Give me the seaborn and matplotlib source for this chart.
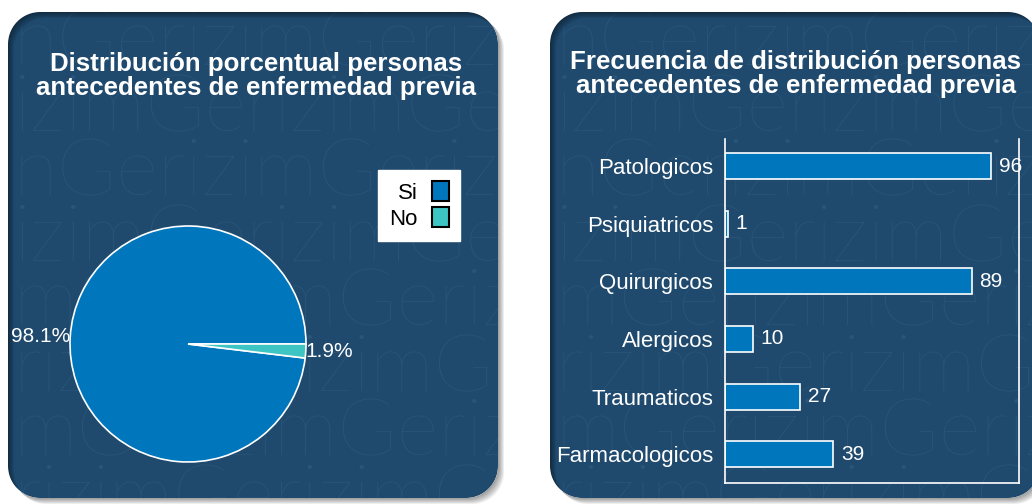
import numpy as np
import matplotlib.pyplot as plt
import seaborn as sns
import pandas as pd
from matplotlib.patches import Rectangle, Polygon, PathPatch
from matplotlib.path import Path
from matplotlib.transforms import Bbox, TransformedBbox

plt.rcParams['font.family'] = ['Liberation Sans', 'DejaVu Sans']

# datos del grafico de torta
grupos = ['Si', 'No']
porcentajes = [98.1, 1.9]
colores_pie = ['#0077BD', '#3DC5C3']

# datos del grafico de barras
antecedentes = ['Patologicos', 'Psiquiatricos', 'Quirurgicos', 'Alergicos',
                'Traumaticos', 'Farmacologicos']
frecuencias = [96, 1, 89, 10, 27, 39]

titulo_pie = 'Distribución porcentual personas\nantecedentes de enfermedad previa'
titulo_barras = 'Frecuencia de distribución personas\nantecedentes de enfermedad previa'

# filas de la marca de agua
filas_marca = ['nGerizimGerizim', 'izimGerizimGerizim', 'nGerizimGerizim',
               'izimGerizimGerizim', 'mGerizimGerizim', 'rizimGerizimGerizim',
               'mGerizimGerizim', 'rizimGerizimGerizim']

fondo = '#1F4A6E'
marca = '#285579'
azul = '#0077BD'

W, H = 1032, 504
fig = plt.figure(figsize=(W / 100, H / 100), dpi=100)
fig.patch.set_facecolor('white')

# capa de fondo en pixeles
bg = fig.add_axes([0, 0, 1, 1])
bg.set_xlim(0, W)
bg.set_ylim(H, 0)
bg.axis('off')


def redondeado(x0, y0, w, h, r, n=24):
    pts = []
    for cx, cy, a0 in [(x0 + w - r, y0 + r, -90), (x0 + w - r, y0 + h - r, 0),
                       (x0 + r, y0 + h - r, 90), (x0 + r, y0 + r, 180)]:
        ang = np.radians(np.linspace(a0, a0 + 90, n))
        pts += list(zip(cx + r * np.cos(ang), cy + r * np.sin(ang)))
    return np.array(pts)


def orientar(v, positivo):
    area = 0.5 * np.sum(v[:, 0] * np.roll(v[:, 1], -1) - np.roll(v[:, 0], -1) * v[:, 1])
    return v if (area > 0) == positivo else v[::-1]


def anillo(exterior, interior):
    ext = orientar(exterior, True)
    inn = orientar(interior, False)
    return Path.make_compound_path(Path(np.vstack([ext, ext[:1]]), closed=True),
                                   Path(np.vstack([inn, inn[:1]]), closed=True))


pw, ph, rad = 490, 486, 32
for x0 in [8, 550]:
    y0 = 12
    borde = redondeado(x0, y0, pw, ph, rad)
    bg.add_patch(Polygon(borde, closed=True, facecolor=fondo, edgecolor='none', zorder=1))
    # marca de agua, recortada a la caja del panel
    caja = TransformedBbox(Bbox.from_extents(x0 / W, 1 - (y0 + ph) / H,
                                             (x0 + pw) / W, 1 - y0 / H),
                           fig.transFigure)
    for i, texto in enumerate(filas_marca):
        t = bg.text(x0 + 6, 66 + 65 * i, texto, fontsize=58, color=marca,
                    ha='left', va='baseline', family=['Lato', 'DejaVu Sans'],
                    weight='light', zorder=2, clip_on=True)
        t.set_clip_box(caja)
    # esquinas blancas sobre la marca de agua
    rect = np.array([[x0 - 1, y0 - 1], [x0 + pw + 1, y0 - 1],
                     [x0 + pw + 1, y0 + ph + 1], [x0 - 1, y0 + ph + 1]])
    bg.add_patch(PathPatch(anillo(rect, borde), facecolor='white',
                           edgecolor='none', zorder=3))
    # sombra difusa
    for k in range(6):
        sombra = redondeado(x0 + 1 + k, y0 + 1 + k, pw, ph, rad)
        bg.add_patch(PathPatch(anillo(sombra, borde), facecolor='black',
                               alpha=0.07, edgecolor='none', zorder=4))

bg.text(256, 76, titulo_pie, ha='center', va='center', color='white',
        fontsize=18.6, fontweight='bold', linespacing=1.0, zorder=5)
bg.text(796, 74, titulo_barras, ha='center', va='center', color='white',
        fontsize=18.6, fontweight='bold', linespacing=1.0, zorder=5)

# torta
cx, cy, r = 188, 344, 118
ax1 = fig.add_axes([(cx - r) / W, (H - cy - r) / H, 2 * r / W, 2 * r / H])
wedges, textos = ax1.pie(porcentajes, colors=colores_pie,
                         labels=[f'{p}%' for p in porcentajes],
                         labeldistance=1.0, startangle=0,
                         wedgeprops=dict(edgecolor='white', linewidth=1.2),
                         textprops=dict(color='white', fontsize=15))
ax1.set_xlim(-1, 1)
ax1.set_ylim(-1, 1)
ax1.patch.set_alpha(0)

handles = [Rectangle((0, 0), 1, 1, facecolor=c, edgecolor='black', linewidth=1.5)
           for c in colores_pie]
leg = ax1.legend(handles, grupos, loc='upper left',
                 bbox_to_anchor=(378 / W, 1 - 170 / H),
                 bbox_transform=fig.transFigure, borderaxespad=0,
                 frameon=True, fancybox=False, framealpha=1,
                 facecolor='white', edgecolor='white', markerfirst=False,
                 handlelength=0.75, handleheight=1.0, handletextpad=0.65,
                 labelspacing=0.15, fontsize=16, borderpad=0.5)

# barras
df = pd.DataFrame({'antecedente': antecedentes, 'frecuencia': frecuencias})
ax2 = fig.add_axes([725 / W, (H - 483) / H, 294 / W, 344 / H])
sns.barplot(data=df, x='frecuencia', y='antecedente', orient='h', color=azul,
            saturation=1, edgecolor='white', linewidth=1.2, width=0.45, ax=ax2)
ax2.bar_label(ax2.containers[0], padding=5.5, color='white', fontsize=15)
ax2.set_xlim(0, 106)
ax2.set_ylim(5.5, -0.47)
ax2.set_xlabel('')
ax2.set_ylabel('')
ax2.set_xticks([])
ax2.tick_params(axis='y', length=0, pad=8.5, labelsize=16, labelcolor='white')
ax2.patch.set_alpha(0)
for lado in ['left', 'right', 'bottom']:
    ax2.spines[lado].set_color('white')
    ax2.spines[lado].set_linewidth(1.2)
ax2.spines['top'].set_visible(False)

plt.savefig('out.png', dpi=100, facecolor='white')
